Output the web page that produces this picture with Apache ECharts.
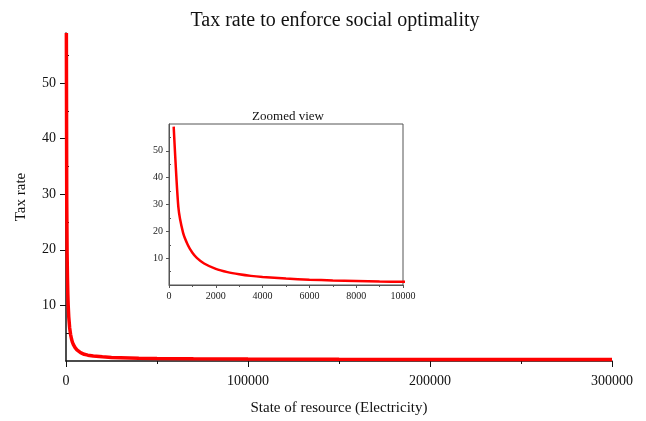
<!DOCTYPE html>
<html>
<head>
<meta charset="utf-8">
<script src="https://cdn.jsdelivr.net/npm/echarts@6/dist/echarts.min.js"></script>
<style>
html,body{margin:0;padding:0;background:#fff;}
#chart{width:646px;height:421px;}
</style>
</head>
<body>
<div id="chart"></div>
<script>
// Data
var stateValues = [200, 400, 600, 800, 1000, 1200, 1500, 2000, 2500, 3000, 3500, 4000, 5000, 6000, 7000, 8000, 9000, 10000, 12000, 15000, 20000, 25000, 30000, 40000, 50000, 70000, 100000, 150000, 200000, 250000, 300000];
var taxRates = [59, 29, 19.5, 15, 12, 10, 8, 6, 4.8, 4, 3.4, 3, 2.4, 2, 1.7, 1.5, 1.3, 1.2, 1.05, 0.9, 0.75, 0.65, 0.6, 0.5, 0.45, 0.4, 0.35, 0.3, 0.28, 0.26, 0.25];
var mainYLabels = [10, 20, 30, 40, 50];
var mainYMinor = [5, 15, 25, 35, 45, 55];
var insetYLabels = [10, 20, 30, 40, 50];
var insetYMinor = [5, 15, 25, 35, 45, 55];

var titleText = 'Tax rate to enforce social optimality';
var insetTitle = 'Zoomed view';
var xName = 'State of resource (Electricity)';
var yName = 'Tax rate';

var serif = 'Liberation Serif';
var plain = function (v) { return String(v); };
var pairs = stateValues.map(function (x, i) { return [x, taxRates[i]]; });

var chart = echarts.init(document.getElementById('chart'), null, {renderer: 'canvas'});
chart.setOption({
  backgroundColor: '#fff',
  animation: false,
  title: [
    {text: titleText, left: 330, top: 6, textAlign: 'center',
     textStyle: {fontFamily: serif, fontSize: 20, fontWeight: 'normal', color: '#111'}},
    {text: insetTitle, left: 283, top: 105, textAlign: 'center',
     textStyle: {fontFamily: serif, fontSize: 13, fontWeight: 'normal', color: '#111'}}
  ],
  grid: [
    {left: 66, right: 34, top: 33, bottom: 52, containLabel: false},
    {left: 169, right: 243, top: 124, bottom: 136, containLabel: false, show: true,
     borderColor: '#555', borderWidth: 1, backgroundColor: '#fff', z: 5}
  ],
  xAxis: [
    {type: 'value', gridIndex: 0, min: 0, max: 300000, interval: 100000,
     name: xName, nameLocation: 'middle', nameGap: 40,
     nameTextStyle: {fontFamily: serif, fontSize: 15, color: '#111'},
     axisLine: {show: true, onZero: false, lineStyle: {color: '#111', width: 1.5}},
     axisTick: {show: true, length: 6, lineStyle: {color: '#111'}},
     minorTick: {show: true, splitNumber: 2, length: 3, lineStyle: {color: '#111'}},
     splitLine: {show: false},
     axisLabel: {fontFamily: serif, fontSize: 14, color: '#111', margin: 13, formatter: plain}},
    {type: 'value', gridIndex: 1, min: 0, max: 10000, interval: 2000,
     axisLine: {show: true, onZero: false, lineStyle: {color: '#555', width: 1}},
     axisTick: {show: true, length: 3, lineStyle: {color: '#555'}},
     minorTick: {show: true, splitNumber: 2, length: 2, lineStyle: {color: '#555'}},
     splitLine: {show: false},
     axisLabel: {fontFamily: serif, fontSize: 10, color: '#222', margin: 6, formatter: plain}, z: 6}
  ],
  yAxis: [
    {type: 'value', gridIndex: 0, min: 0, max: 59,
     name: yName, nameLocation: 'middle', nameGap: 37,
     nameTextStyle: {fontFamily: serif, fontSize: 15, color: '#111'},
     axisLine: {show: true, onZero: false, lineStyle: {color: '#111', width: 1.5}},
     axisTick: {show: true, length: 6, customValues: mainYLabels, lineStyle: {color: '#111'}},
     splitLine: {show: false},
     axisLabel: {fontFamily: serif, fontSize: 14, color: '#111', margin: 10, customValues: mainYLabels}},
    {type: 'value', gridIndex: 0, min: 0, max: 59,
     axisLine: {show: false},
     axisTick: {show: true, length: 3, customValues: mainYMinor, lineStyle: {color: '#111'}},
     splitLine: {show: false},
     axisLabel: {show: false}},
    {type: 'value', gridIndex: 1, min: 0, max: 60,
     axisLine: {show: true, onZero: false, lineStyle: {color: '#555', width: 1}},
     axisTick: {show: true, length: 3, customValues: insetYLabels, lineStyle: {color: '#555'}},
     splitLine: {show: false},
     axisLabel: {fontFamily: serif, fontSize: 10, color: '#222', margin: 6, customValues: insetYLabels}, z: 6},
    {type: 'value', gridIndex: 1, min: 0, max: 60,
     axisLine: {show: false},
     axisTick: {show: true, length: 2, customValues: insetYMinor, lineStyle: {color: '#555'}},
     splitLine: {show: false},
     axisLabel: {show: false}, z: 6}
  ],
  series: [
    {type: 'line', xAxisIndex: 0, yAxisIndex: 0, data: pairs, showSymbol: false,
     lineStyle: {color: '#ff0000', width: 3.5}, z: 3},
    {type: 'line', xAxisIndex: 1, yAxisIndex: 2, data: pairs, showSymbol: false, clip: true,
     smooth: 0.2, lineStyle: {color: '#ff0000', width: 2.5}, z: 7}
  ]
});
</script>
</body>
</html>
